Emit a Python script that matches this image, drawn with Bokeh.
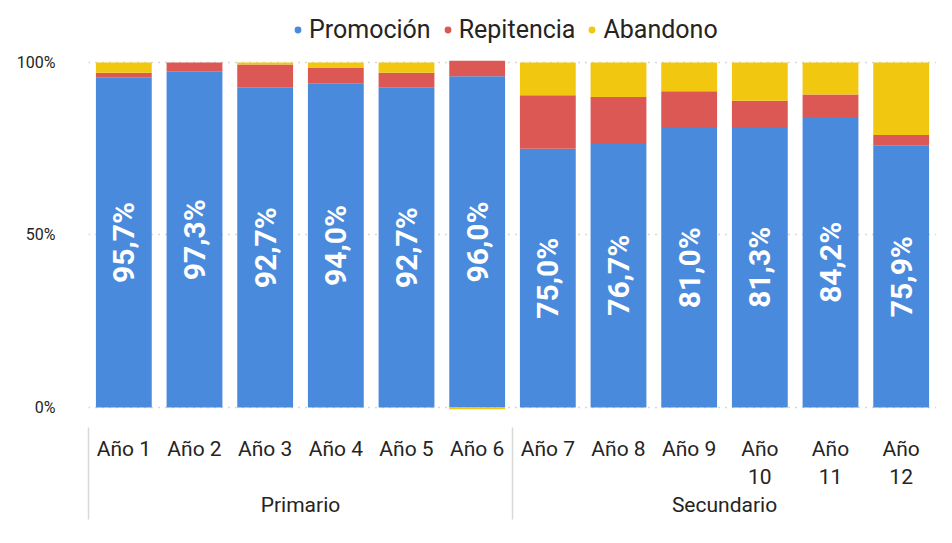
import numpy as np
from bokeh.plotting import figure
from bokeh.models import (Range1d, Legend, LegendItem, ColumnDataSource,
                          FixedTicker, LinearAxis)
from bokeh.core.properties import value
from bokeh.embed import file_html
from bokeh.resources import INLINE

niveles = ["Primario"] * 6 + ["Secundario"] * 6
anios = ["Año 1", "Año 2", "Año 3", "Año 4", "Año 5", "Año 6",
         "Año 7", "Año 8", "Año 9", "Año\n10", "Año\n11", "Año\n12"]
promocion = [95.7, 97.3, 92.7, 94.0, 92.7, 96.0, 75.0, 76.7, 81.0, 81.3, 84.2, 75.9]
repitencia = [1.3, 2.7, 6.7, 4.4, 4.3, 4.5, 15.5, 13.3, 10.7, 7.6, 6.5, 3.1]
abandono = [3.0, 0.0, 0.6, 1.6, 3.0, -0.5, 9.5, 10.0, 8.3, 11.1, 9.3, 21.0]
series = ["Promoción", "Repitencia", "Abandono"]
colores = ["#4A8ADC", "#DB5855", "#F1C80F"]
yticks = [0, 50, 100]

FONT = "Roboto"
TXT = "#252423"

n = len(anios)
# each category occupies 2 units on a numeric axis: centres at 1, 3, 5, ...
xc = [2 * i + 1 for i in range(n)]
grupos = list(dict.fromkeys(niveles))
inicio = {g: 2 * niveles.index(g) for g in grupos}
fin = {g: 2 * (len(niveles) - niveles[::-1].index(g)) for g in grupos}
centros_grupo = [(inicio[g] + fin[g]) // 2 for g in grupos]
limites = [inicio[g] for g in grupos]

p = figure(width=936, height=527, output_backend="svg", toolbar_location=None,
           x_range=Range1d(0, 2 * n), y_range=Range1d(-0.87, 115.65), x_axis_location=None,
           min_border_left=88, min_border_right=0, min_border_top=8, min_border_bottom=117)
p.outline_line_color = None

# stacking: positives upward, negatives downward
pos = np.zeros(n)
neg = np.zeros(n)
items = []
for name, vals, col in zip(series, [promocion, repitencia, abandono], colores):
    v = np.array(vals, dtype=float)
    bottom = np.where(v >= 0, pos, neg + v)
    top = np.where(v >= 0, pos + v, neg)
    pos = np.where(v >= 0, pos + v, pos)
    neg = np.where(v < 0, neg + v, neg)
    src = ColumnDataSource(dict(x=xc, bottom=bottom, top=top))
    p.vbar(x="x", bottom="bottom", top="top", width=1.58, source=src,
           fill_color=col, line_color=None)
    dummy = p.scatter(x=[xc[0]], y=[-50], size=17, marker="circle",
                      fill_color=col, line_color=None)
    items.append(LegendItem(label=name, renderers=[dummy]))

lab_src = ColumnDataSource(dict(
    x=xc,
    y=[v / 2 for v in promocion],
    t=[f"{v:.1f}%".replace(".", ",") for v in promocion]))
p.text(x="x", y="y", text="t", source=lab_src, angle=np.pi / 2,
       text_align="center", text_baseline="middle", text_color="white",
       text_font_size="30px", text_font_style="bold", text_font=value(FONT))

legend = Legend(items=items, orientation="horizontal", location=(201, 366),
                label_text_font=FONT, label_text_font_size="25px",
                label_text_color=TXT, glyph_width=17, glyph_height=17,
                spacing=8, label_standoff=3, padding=2, margin=0,
                border_line_color=None, background_fill_alpha=0)
p.add_layout(legend)

p.xgrid.grid_line_color = None
p.ygrid.ticker = FixedTicker(ticks=yticks)
p.ygrid.grid_line_color = "#b0b0b0"
p.ygrid.grid_line_dash = "1 6"
p.ygrid.grid_line_width = 1.5

p.yaxis.ticker = FixedTicker(ticks=yticks)
p.yaxis.major_label_overrides = {t: f"{t}%" for t in yticks}
p.yaxis.axis_line_color = None
p.yaxis.major_tick_line_color = None
p.yaxis.minor_tick_line_color = None
p.yaxis.major_label_text_font = FONT
p.yaxis.major_label_text_font_size = "16px"
p.yaxis.major_label_text_color = TXT
p.yaxis.major_label_standoff = 27


def label_axis(ticks, labels, standoff):
    return LinearAxis(ticker=FixedTicker(ticks=ticks),
                      major_label_overrides=dict(zip(ticks, labels)),
                      axis_line_color=None, major_tick_line_color=None,
                      minor_tick_line_color=None, major_tick_in=0, major_tick_out=0,
                      major_label_text_font=FONT, major_label_text_font_size="21px",
                      major_label_text_color=TXT, major_label_standoff=standoff)


ax_anios = label_axis(xc, anios, 26)
ax_grupos = label_axis(centros_grupo, grupos, 0)
ax_sep = LinearAxis(ticker=FixedTicker(ticks=limites),
                    axis_line_color=None, major_tick_in=92, major_tick_out=0,
                    major_tick_line_color="#d9d9d9", major_tick_line_width=1.5,
                    minor_tick_line_color=None, major_label_text_font_size="0px",
                    major_label_standoff=0)
p.add_layout(ax_anios, "below")
p.add_layout(ax_grupos, "below")
p.add_layout(ax_sep, "below")

open("out.html", "w").write(file_html(p, INLINE))
